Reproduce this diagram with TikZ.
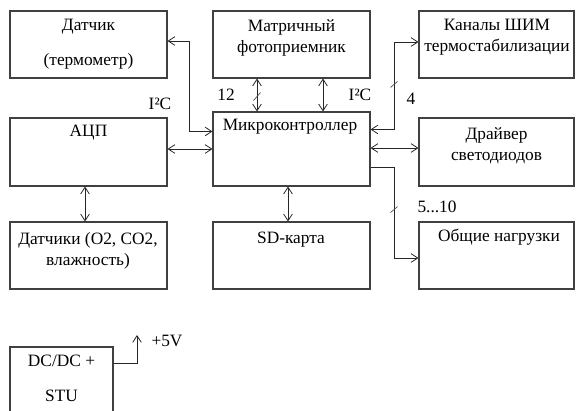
\documentclass[tikz,border=0pt]{standalone}
\usepackage{fontspec}
\setmainfont{Liberation Serif}
\usepackage{tikz}
\usetikzlibrary{positioning, arrows.meta, calc}
\tikzset{
    block/.style={
        rectangle,
        draw=black!75,
        line width=0.8pt,
        minimum width=117.75pt,
        minimum height=50.25pt,
        inner sep=0pt
    },
    blocktext/.style={
        align=center,
        inner sep=0pt
    },
    link/.style={
        line width=0.6pt,
        black!85
    },
    busmark/.style={
        line width=0.5pt,
        black!70
    }
}

\begin{document}
\begin{tikzpicture}[
        x=0.75pt, y=-0.75pt,
        every node/.style={font=\fontsize{13}{15.75}\selectfont},
        >={Straight Barb[length=5pt,width=6.5pt]}
      ]
      \useasboundingbox (0,0) rectangle (576,411);

      % blocks
      \node[block] (sens) at (88.5, 44.5) {};
      \node[block] (matr) at (291.5, 44.5) {};
      \node[block, minimum width=116.25pt] (pwm) at (496.5, 44.5) {};
      \node[block, minimum height=51pt] (adc) at (88.5, 152) {};
      \node[block, minimum height=55.5pt] (mcu) at (291.5, 149) {};
      \node[block, minimum width=116.25pt, minimum height=51pt] (drv) at (496.5, 152) {};
      \node[block] (gas) at (88.5, 255.5) {};
      \node[block] (sd) at (291.5, 255.5) {};
      \node[block, minimum width=116.25pt] (load) at (496.5, 255.5) {};
      \node[block, minimum width=77.25pt, minimum height=60pt] (dcdc) at (61.5, 387) {};

      \node[blocktext] (sens-t) at (88.5, 44.5) {Датчик\\[10.5pt](термометр)};
      \node[blocktext] (matr-t) at (291.5, 37.5) {Матричный\\фотоприемник};
      \node[blocktext] (pwm-t) at (497, 37.5) {Каналы ШИМ\\термостабилизации};
      \node[blocktext] (adc-t) at (88.5, 133) {АЦП};
      \node[blocktext] (mcu-t) at (290, 127) {Микроконтроллер};
      \node[blocktext] (drv-t) at (496.5, 146) {Драйвер\\светодиодов};
      \node[blocktext] (gas-t) at (88, 250.5) {Датчики (O2, CO2,\\влажность)};
      \node[blocktext] (sd-t) at (291, 240) {SD-карта};
      \node[blocktext] (load-t) at (499, 237) {Общие нагрузки};
      \node[blocktext] (dcdc-t) at (61.5, 378.5) {DC/DC +\\[10.5pt]STU};

      % bus labels
      \node (i2c-l) at (160, 104) {I²C};
      \node (n12) at (226, 95) {12};
      \node (i2c-r) at (360, 95) {I²C};
      \node (n4) at (411, 99) {4};
      \node (n510) at (437, 207) {5...10};
      \node (v5-t) at (167, 341) {+5V};
      \coordinate (v5) at (137, 335);

      % connections
      \draw[link, <->] ($(sens.east)+(0,-3.5)$) -| ($(mcu.north west)+(-23,20)$) -- ($(mcu.north west)+(0,20)$);
      \draw[link, <->] (adc.east |- mcu.west) -- (mcu.west);
      \draw[link, <->] ($(matr.south)+(-34.5,0)$) -- ($(mcu.north)+(-34.5,0)$);
      \draw[link, <->] ($(matr.south)+(31.5,0)$) -- ($(mcu.north)+(31.5,0)$);
      \draw[link, <->] ($(mcu.north east)+(0,18)$) -| ($(pwm.west)+(-24,-2.5)$) -- ($(pwm.west)+(0,-2.5)$);
      \draw[link, <->] ($(mcu.east)+(0,-1)$) -- ($(drv.west)+(0,-4)$);
      \draw[link, ->] ($(mcu.south east)+(0,-19)$) -| ($(load.west)+(-24,2.5)$) -- ($(load.west)+(0,2.5)$);
      \draw[link, <->] ($(adc.south)+(-3.5,0)$) -- ($(gas.north)+(-3.5,0)$);
      \draw[link, <->] ($(mcu.south)+(-3.5,0)$) -- ($(sd.north)+(-3.5,0)$);
      \draw[link, ->] ($(dcdc.north east)+(0,17)$) -| (v5);

      % bus width marks
      \draw[busmark] ($(matr.south)+(-38,22)$) -- ++(7,-8);
      \draw[busmark] ($(mcu.north east)+(20,-24)$) -- ++(7,-6);
      \draw[busmark] ($(mcu.south east)+(20,26)$) -- ++(7,-6);
    \end{tikzpicture}
\end{document}
